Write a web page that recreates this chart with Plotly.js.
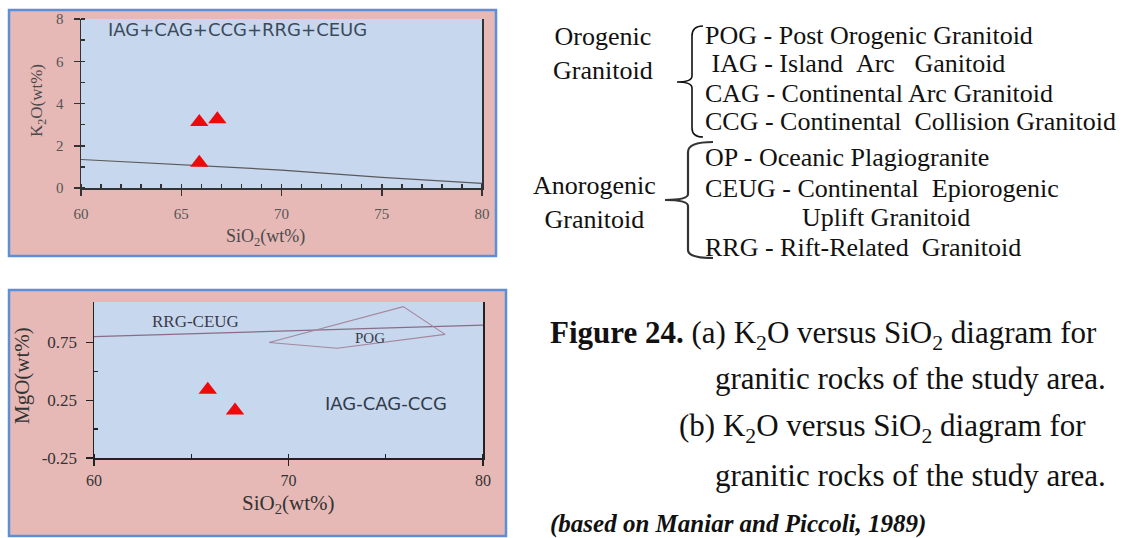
<!DOCTYPE html>
<html>
<head>
<meta charset="utf-8">
<script src="https://cdn.plot.ly/plotly-3.0.1.min.js"></script>
<style>html,body{margin:0;padding:0;background:#fff;}#chart{width:1130px;height:538px;}</style>
</head>
<body>
<div id="chart"></div>
<script>
// ---------- Data ----------
// (a) K2O vs SiO2
const k2oSamplesSiO2 = [65.9, 66.8, 65.9];
const k2oSamplesK2O  = [3.12, 3.25, 1.2];
const k2oBoundarySiO2 = [60, 65, 70, 75, 80];
const k2oBoundaryK2O  = [1.35, 1.09, 0.85, 0.5, 0.22];
const k2oXTicks = [60, 65, 70, 75, 80];
const k2oYTicks = [0, 2, 4, 6, 8];
const k2oFieldLabel = "IAG+CAG+CCG+RRG+CEUG";

// (b) MgO vs SiO2
const mgoSamplesSiO2 = [65.85, 67.25];
const mgoSamplesMgO  = [0.34, 0.16];
const rrgBoundarySiO2 = [60, 70, 80];
const rrgBoundaryMgO  = [0.80, 0.85, 0.90];
const pogFieldSiO2 = [69.0, 75.9, 78.05, 72.5, 69.0];
const pogFieldMgO  = [0.75, 1.06, 0.82, 0.70, 0.75];
const mgoXTicks = [60, 70, 80];
const mgoYTicks = [-0.25, 0.25, 0.75];
const mgoYTickText = ["-0.25", "0.25", "0.75"];
const mgoYMinor = [0, 0.5];
const mgoFieldLabels = ["RRG-CEUG", "POG", "IAG-CAG-CCG"];
const mgoFieldLabelX = [65.2, 74.2, 75.0];
const mgoFieldLabelY = [0.93, 0.79, 0.22];

// Legend text (right side)
const groupNames = ["Orogenic<br>Granitoid", "Anorogenic<br>Granitoid"];
const abbreviations = [
  "POG - Post Orogenic Granitoid",
  "\u00a0IAG - Island\u00a0\u00a0Arc\u00a0\u00a0\u00a0Ganitoid",
  "CAG - Continental Arc Granitoid",
  "CCG - Continental\u00a0\u00a0Collision Granitoid",
  "OP - Oceanic Plagiogranite",
  "CEUG - Continental\u00a0\u00a0Epiorogenic",
  "Uplift Granitoid",
  "RRG - Rift-Related\u00a0\u00a0Granitoid"
];

// ---------- Layout helpers ----------
const W = 1130, H = 538;
const px = v => v / W;
const py = v => 1 - v / H;

const serif = "Liberation Serif, Times New Roman, serif";
const sans = "DejaVu Sans, sans-serif";

const domA = {x: [px(81), px(482)], y: [py(188), py(19)]};
const domB = {x: [px(94), px(483)], y: [py(458), py(302)]};

const traces = [
  {x: k2oBoundarySiO2, y: k2oBoundaryK2O, xaxis: 'x', yaxis: 'y', mode: 'lines',
   line: {color: '#5a5a5a', width: 1.2}, hoverinfo: 'skip'},
  {x: k2oSamplesSiO2, y: k2oSamplesK2O, xaxis: 'x', yaxis: 'y', mode: 'markers',
   marker: {symbol: 'triangle-up', size: 16, color: '#ee0a0a', line: {width: 0}}},
  {x: rrgBoundarySiO2, y: rrgBoundaryMgO, xaxis: 'x2', yaxis: 'y2', mode: 'lines',
   line: {color: '#8a6c86', width: 1.3}, hoverinfo: 'skip'},
  {x: pogFieldSiO2, y: pogFieldMgO, xaxis: 'x2', yaxis: 'y2', mode: 'lines',
   line: {color: '#a5869d', width: 1.1}, hoverinfo: 'skip'},
  {x: mgoSamplesSiO2, y: mgoSamplesMgO, xaxis: 'x2', yaxis: 'y2', mode: 'markers',
   marker: {symbol: 'triangle-up', size: 16, color: '#ee0a0a', line: {width: 0}}}
];

const pink = '#e7b9b6', blueBorder = '#5b8fd8', plotBlue = '#c7d7ee';

const shapes = [
  {type: 'rect', xref: 'paper', yref: 'paper', x0: px(9), x1: px(496), y0: py(256), y1: py(10),
   fillcolor: pink, line: {color: blueBorder, width: 2.5}, layer: 'below'},
  {type: 'rect', xref: 'paper', yref: 'paper', x0: px(9), x1: px(506), y0: py(536), y1: py(290),
   fillcolor: pink, line: {color: blueBorder, width: 2.5}, layer: 'below'},
  {type: 'rect', xref: 'paper', yref: 'paper', x0: domA.x[0], x1: domA.x[1], y0: domA.y[0], y1: domA.y[1],
   fillcolor: plotBlue, line: {width: 0}, layer: 'below'},
  {type: 'rect', xref: 'paper', yref: 'paper', x0: domB.x[0], x1: domB.x[1], y0: domB.y[0], y1: domB.y[1],
   fillcolor: plotBlue, line: {width: 0}, layer: 'below'}
];

function pathPx(pts) {
  return pts.map(p => typeof p === 'string' ? p : (px(p[0]).toFixed(5) + ',' + py(p[1]).toFixed(5))).join(' ');
}
shapes.push({type: 'path', xref: 'paper', yref: 'paper', line: {color: '#111', width: 1.6},
  path: pathPx(['M', [703, 26], 'Q', [692, 26], [692, 36], 'L', [692, 76], 'Q', [692, 82], [677, 82],
                'Q', [692, 82], [692, 88], 'L', [692, 128], 'Q', [692, 137], [703, 137]])});
shapes.push({type: 'path', xref: 'paper', yref: 'paper', line: {color: '#333', width: 2.2},
  path: pathPx(['M', [713, 142], 'Q', [688, 142], [688, 152], 'L', [688, 194], 'Q', [688, 200], [665, 200],
                'Q', [688, 200], [688, 206], 'L', [688, 250], 'Q', [688, 258], [713, 258]])});

const annotations = [];
function addText(text, x, y, size, opts) {
  annotations.push(Object.assign({
    text: text, xref: 'paper', yref: 'paper', x: px(x), y: py(y),
    xanchor: 'left', yanchor: 'middle', showarrow: false,
    font: {family: serif, size: size, color: '#111'}
  }, opts || {}));
}

// Axis titles
addText('K<sub>2</sub>O(wt%)', 38, 101, 17, {xanchor: 'center', textangle: -90, font: {family: serif, size: 17, color: '#4a4a4a'}});
addText('SiO<sub>2</sub>(wt%)', 265, 237, 18, {xanchor: 'center', font: {family: serif, size: 18, color: '#4a4a4a'}});
addText('MgO(wt%)', 22, 376, 21, {xanchor: 'center', textangle: -90, font: {family: serif, size: 21, color: '#333'}});
addText('SiO<sub>2</sub>(wt%)', 288, 504, 21, {xanchor: 'center', font: {family: serif, size: 21, color: '#333'}});

// Field labels inside plots
annotations.push({text: k2oFieldLabel, xref: 'x', yref: 'y', x: 67.8, y: 7.48, showarrow: false,
  xanchor: 'center', yanchor: 'middle', font: {family: sans, size: 18, color: '#3b4a5a'}});
mgoFieldLabels.forEach((t, i) => {
  annotations.push({text: t, xref: 'x2', yref: 'y2', x: mgoFieldLabelX[i], y: mgoFieldLabelY[i],
    showarrow: false, xanchor: 'center', yanchor: 'middle',
    font: i === 2 ? {family: sans, size: 18, color: '#2f3b4a'} : {family: serif, size: i === 0 ? 17 : 15, color: '#3a3a48'}});
});

// Right-hand legend text
addText(groupNames[0], 603, 54, 26, {xanchor: 'center', align: 'center'});
addText(groupNames[1], 594, 203, 26, {xanchor: 'center', align: 'center'});
const abbrX = [703, 703, 703, 703, 703, 703, 800, 703];
const abbrY = [35, 64, 93, 122, 158, 188, 218, 247];
abbreviations.forEach((t, i) => addText(t, abbrX[i], abbrY[i], 26));

// Caption
addText('<b>Figure 24.</b> (a) K<sub>2</sub>O versus SiO<sub>2</sub> diagram for', 548, 335, 31);
addText('granitic rocks of the study area.', 713, 378, 31);
addText('(b) K<sub>2</sub>O versus SiO<sub>2</sub> diagram for', 677, 428, 31);
addText('granitic rocks of the study area.', 713, 475, 31);
addText('<b><i>(based on Maniar and Piccoli, 1989)</i></b>', 548, 524, 25);

const axisCommon = {showgrid: false, zeroline: false, showline: true, fixedrange: true};

const layout = {
  width: W, height: H, autosize: false,
  margin: {l: 0, r: 0, t: 0, b: 0, pad: 0},
  paper_bgcolor: '#ffffff', plot_bgcolor: 'rgba(0,0,0,0)',
  showlegend: false,
  xaxis: Object.assign({}, axisCommon, {domain: domA.x, anchor: 'y', range: [60, 80],
    tickmode: 'array', tickvals: k2oXTicks, ticks: 'outside', ticklen: 6, tickwidth: 1.5, tickcolor: '#333',
    linecolor: '#333', linewidth: 1.5, ticklabelstandoff: 5,
    minor: {dtick: 1, ticks: 'inside', ticklen: 4, tickcolor: '#333', showgrid: false},
    tickfont: {family: serif, size: 15, color: '#555'}}),
  yaxis: Object.assign({}, axisCommon, {domain: domA.y, anchor: 'x', range: [0, 8],
    tickmode: 'array', tickvals: k2oYTicks, ticks: 'outside', ticklen: 6, tickwidth: 1.5, tickcolor: '#333',
    linecolor: '#333', linewidth: 1.5, mirror: true, ticklabelstandoff: 7,
    minor: {dtick: 1, ticks: 'inside', ticklen: 4, tickcolor: '#333', showgrid: false},
    tickfont: {family: serif, size: 15, color: '#555'}}),
  xaxis2: Object.assign({}, axisCommon, {domain: domB.x, anchor: 'y2', range: [60, 80],
    tickmode: 'array', tickvals: mgoXTicks, ticks: 'outside', ticklen: 6, tickwidth: 1.3, tickcolor: '#222',
    linecolor: '#222', linewidth: 1.5, ticklabelstandoff: 1,
    minor: {dtick: 5, ticks: 'inside', ticklen: 4, tickcolor: '#222', showgrid: false},
    tickfont: {family: serif, size: 16, color: '#333'}}),
  yaxis2: Object.assign({}, axisCommon, {domain: domB.y, anchor: 'x2', range: [-0.25, 1.1],
    tickmode: 'array', tickvals: mgoYTicks, ticktext: mgoYTickText, ticks: 'outside', ticklen: 7, tickwidth: 1.3, tickcolor: '#222',
    linecolor: '#222', linewidth: 1.5, mirror: true, ticklabelstandoff: 5,
    minor: {tickmode: 'array', tickvals: mgoYMinor, ticks: 'inside', ticklen: 4, tickcolor: '#222', showgrid: false},
    tickfont: {family: serif, size: 17, color: '#333'}}),
  shapes: shapes,
  annotations: annotations
};

Plotly.newPlot('chart', traces, layout, {displayModeBar: false, staticPlot: true});
</script>
</body>
</html>
